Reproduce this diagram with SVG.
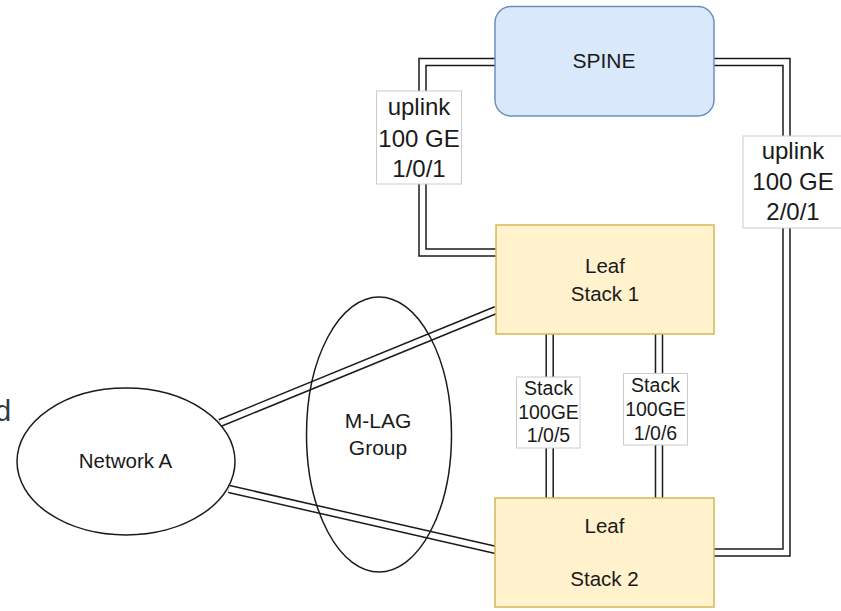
<svg xmlns="http://www.w3.org/2000/svg" width="841" height="611" viewBox="0 0 841 611">
<style>
text{font-family:"Liberation Sans",Arial,sans-serif;fill:#1a1a1a;text-anchor:middle}
.outer{fill:none;stroke:#1a1a1a;stroke-width:8.5}
.inner{fill:none;stroke:#ffffff;stroke-width:5.5}
.lbl{fill:#ffffff;stroke:#cccccc;stroke-width:1}
.leaf{fill:#fff2cc;stroke:#d6b656;stroke-width:1.5}
</style>
<rect width="841" height="611" fill="#ffffff"/>
<text x="-5" y="421" style="font-size:29px;fill:#2d3b48;text-anchor:start">d</text>
<g id="connectors">
<path class="outer" d="M495,62 H422.5 V252.5 H496"/>
<path class="inner" d="M495,62 H422.5 V252.5 H496"/>
<path class="outer" d="M714,62 H786.5 V552.5 H714"/>
<path class="inner" d="M714,62 H786.5 V552.5 H714"/>
<path class="outer" d="M220,423 L496,310"/>
<path class="inner" d="M220,423 L496,310"/>
<path class="outer" d="M229,489 L496,550"/>
<path class="inner" d="M229,489 L496,550"/>
<path class="outer" d="M549.7,334 V498"/>
<path class="inner" d="M549.7,334 V498"/>
<path class="outer" d="M659,334 V498"/>
<path class="inner" d="M659,334 V498"/>
<g id="label-uplink1">
<rect class="lbl" x="376.5" y="91" width="85" height="93"/>
<text x="419" y="115" style="font-size:24px">uplink</text>
<text x="419" y="147" style="font-size:24px">100 GE</text>
<text x="419" y="177" style="font-size:24px">1/0/1</text>
</g>
<g id="label-uplink2">
<rect class="lbl" x="743" y="136" width="102" height="92"/>
<text x="793" y="159" style="font-size:24px">uplink</text>
<text x="793" y="190" style="font-size:24px">100 GE</text>
<text x="793" y="220" style="font-size:24px">2/0/1</text>
</g>
<g id="label-stack5">
<rect class="lbl" x="516.5" y="377" width="63.5" height="71"/>
<text x="548.5" y="395" style="font-size:19.5px">Stack</text>
<text x="548.5" y="418.5" style="font-size:19.5px">100GE</text>
<text x="548.5" y="442" style="font-size:19.5px">1/0/5</text>
</g>
<g id="label-stack6">
<rect class="lbl" x="623.5" y="373.5" width="64" height="71.5"/>
<text x="655.5" y="392" style="font-size:19.5px">Stack</text>
<text x="655.5" y="416" style="font-size:19.5px">100GE</text>
<text x="655.5" y="440" style="font-size:19.5px">1/0/6</text>
</g>
</g>
<g id="spine">
<rect x="495" y="6.5" width="219" height="109.5" rx="16" fill="#dae8fc" stroke="#6c8ebf" stroke-width="1.5"/>
<text x="604" y="68" style="font-size:21px">SPINE</text>
</g>
<g id="leaf1">
<rect class="leaf" x="496" y="225" width="218" height="109"/>
<text x="605" y="273" style="font-size:20.5px">Leaf</text>
<text x="605" y="301" style="font-size:20.5px">Stack 1</text>
</g>
<g id="leaf2">
<rect class="leaf" x="495" y="498" width="219" height="109"/>
<text x="604.5" y="533" style="font-size:20.5px">Leaf</text>
<text x="604.5" y="586" style="font-size:20.5px">Stack 2</text>
</g>
<g id="network-a">
<ellipse cx="126" cy="461.5" rx="109" ry="73.5" fill="#ffffff" stroke="#1a1a1a" stroke-width="1.5"/>
<text x="125.5" y="468" style="font-size:20.5px">Network A</text>
</g>
<g id="mlag">
<ellipse cx="379" cy="434.5" rx="72.5" ry="137.5" fill="none" stroke="#1a1a1a" stroke-width="1.5"/>
<text x="378" y="428" style="font-size:21px">M-LAG</text>
<text x="378" y="455" style="font-size:21px">Group</text>
</g>
</svg>
